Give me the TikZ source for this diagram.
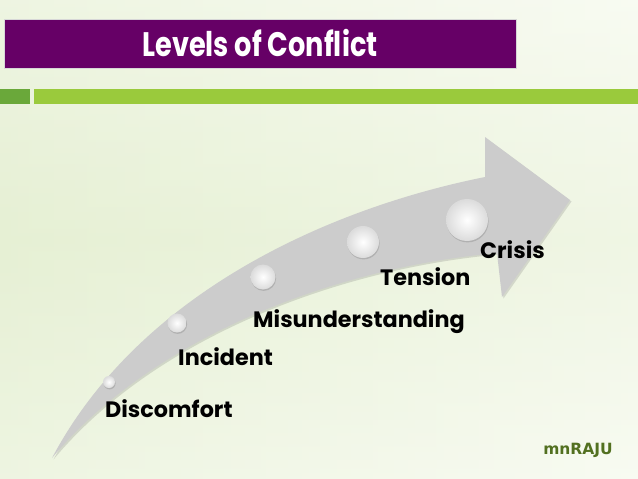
\documentclass[tikz,border=0pt]{standalone}
\usepackage{fontspec}
\setsansfont{Poppins}
\newfontfamily\signfont{DejaVu Sans}
\usepackage{tikz}
\usetikzlibrary{shadows}
\usepackage{xcolor}
\definecolor{bgA}{RGB}{230,240,212}
\definecolor{bgB}{RGB}{248,251,242}
\definecolor{titlefill}{RGB}{102,0,102}
\definecolor{titleline}{RGB}{215,215,215}
\definecolor{barA}{RGB}{106,168,58}
\definecolor{barB}{RGB}{154,202,60}
\definecolor{arrfill}{RGB}{204,204,204}
\definecolor{signcol}{RGB}{82,112,32}

\begin{document}
\begin{tikzpicture}[
  x=1pt, y=-1pt,
  title/.style={
    draw=titleline, fill=titlefill, line width=1pt,
    drop shadow={opacity=0.2, shadow xshift=1pt, shadow yshift=-1pt},
    minimum width=512pt, minimum height=49pt, inner sep=0pt,
    text=white, font=\sffamily\bfseries\fontsize{34}{36}\selectfont
  },
  ball/.style={
    circle, inner sep=0pt, shading=radial,
    inner color=white, outer color=black!14,
    drop shadow={opacity=0.35, shadow xshift=0.6pt, shadow yshift=-1.4pt}
  },
  level/.style={
    anchor=base west, inner sep=0pt,
    font=\sffamily\bfseries\fontsize{22.3}{26}\selectfont
  },
]

% --- background ---
\shade[left color=bgA, right color=bgB] (0,0) rectangle (638,479);
\shade[top color=bgB, bottom color=bgB, middle color=bgA, opacity=0.45]
  (0,0) rectangle (638,479);

% --- title bar ---
\node[title] (heading) at (260,43.5) {\scalebox{0.8}[1]{Levels of Conflict}};

% --- green rule ---
\fill[barA] (0,89) rectangle (30,104);
\fill[barB] (34,89) rectangle (638,104);

% --- curved arrow ---
\fill[arrfill, drop shadow={opacity=0.25, shadow xshift=1.5pt, shadow yshift=-1.5pt}]
  (52,458) .. controls (140,292) and (330,208) .. (485,177)
  -- (485,137) -- (570,200) -- (502,297) -- (497,253)
  .. controls (330,268) and (150,340) .. cycle;

% --- level markers ---
\node[ball, minimum size=12pt] (dotDiscomfort) at (109,382) {};
\node[ball, minimum size=19pt] (dotIncident)   at (177,323) {};
\node[ball, minimum size=25pt] (dotMisunder)   at (263,277) {};
\node[ball, minimum size=32pt] (dotTension)    at (363,242) {};
\node[ball, minimum size=42pt] (dotCrisis)     at (467,220) {};

% --- level labels ---
\node[level] (labDiscomfort) at (105,417) {Discomfort};
\node[level] (labIncident)   at (178,365) {Incident};
\node[level] (labMisunder)   at (253,327) {Misunderstanding};
\node[level] (labTension)    at (380,285) {Tension};
\node[level] (labCrisis)     at (480,258) {Crisis};

% --- signature ---
\node[font=\signfont\bfseries\fontsize{15.5}{18}\selectfont, text=signcol]
  (sign) at (578,450) {mnRAJU};

\end{tikzpicture}
\end{document}
